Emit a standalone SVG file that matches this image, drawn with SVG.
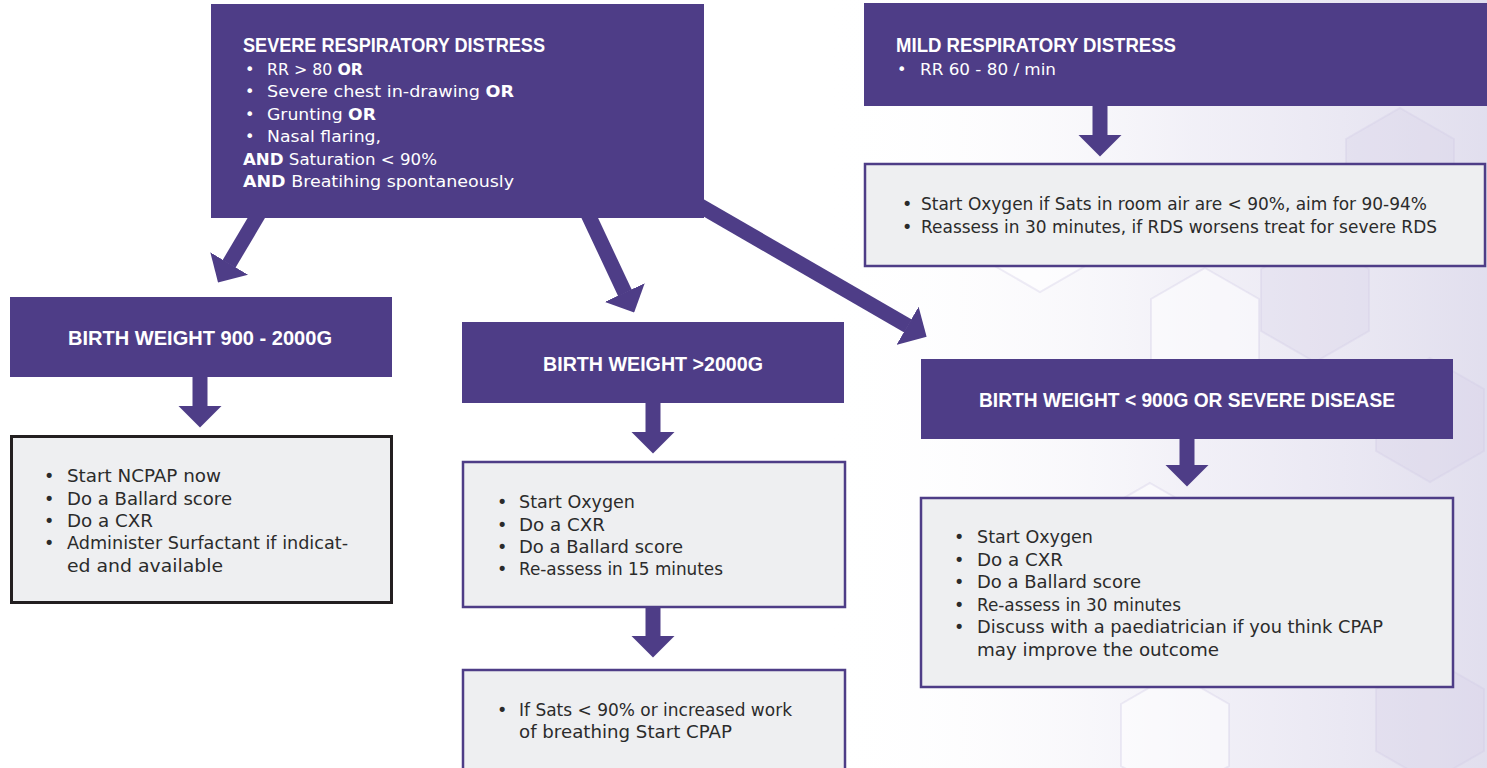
<svg xmlns="http://www.w3.org/2000/svg" width="1487" height="768" viewBox="0 0 1487 768">
  <style>
    .hdr { fill: #4e3d87; }
    .card { fill: #eeeff1; stroke: #4e3d87; stroke-width: 2.5; }
    .card.dark { stroke: #231f20; stroke-width: 3; }
    .title { font-family: "Liberation Sans", Arial, sans-serif; font-weight: bold; font-size: 19.5px; fill: #ffffff; }
    .wt { font-family: "DejaVu Sans", sans-serif; font-size: 16px; fill: #ffffff; }
    .tx { font-family: "DejaVu Sans", sans-serif; font-size: 17.5px; fill: #2b2b2b; }
    .bold { font-weight: bold; }
    .flow { stroke: #4e3d87; stroke-width: 15; fill: none; marker-end: url(#head); }
    .hex { stroke: #d0cce4; stroke-width: 2; }
  </style>
  <defs>
    <marker id="head" markerUnits="userSpaceOnUse" viewBox="0 0 22 44" markerWidth="22" markerHeight="44" refX="0.5" refY="22" orient="auto">
      <path d="M0,0 L22,22 L0,44 Z" fill="#4e3d87"/>
    </marker>
    <linearGradient id="haze" x1="0" y1="0" x2="1" y2="0">
      <stop offset="0.55" stop-color="#ffffff" stop-opacity="0"/>
      <stop offset="0.8" stop-color="#eceaf4" stop-opacity="0.7"/>
      <stop offset="1" stop-color="#dedbec" stop-opacity="0.9"/>
    </linearGradient>
    <polygon id="hx" points="0,-62 54,-31 54,31 0,62 -54,31 -54,-31"/>
  </defs>

  <!-- page background with faint hexagon texture on the right -->
  <g id="background">
    <rect x="0" y="0" width="1487" height="768" fill="#ffffff"/>
    <rect x="0" y="0" width="1487" height="768" fill="url(#haze)"/>
    <g class="hex" fill="#ffffff" fill-opacity="0.5" stroke-opacity="0.35">
      <use href="#hx" x="1205" y="330"/>
      <use href="#hx" x="1150" y="545"/>
      <use href="#hx" x="1175" y="735"/>
      <use href="#hx" x="1040" y="230"/>
    </g>
    <g class="hex" fill="#d6d2e8" fill-opacity="0.3" stroke-opacity="0.35">
      <use href="#hx" x="1315" y="300"/>
      <use href="#hx" x="1430" y="420"/>
      <use href="#hx" x="1370" y="580"/>
      <use href="#hx" x="1430" y="720"/>
      <use href="#hx" x="1400" y="170"/>
    </g>
  </g>

  <!-- connectors -->
  <g id="connectors">
    <line class="flow" x1="261" y1="210" x2="229" y2="264"/>
    <line class="flow" x1="586" y1="210" x2="625" y2="293"/>
    <line class="flow" x1="690" y1="200" x2="908" y2="326"/>
    <line class="flow" x1="1100" y1="104" x2="1100" y2="135"/>
    <line class="flow" x1="200" y1="376" x2="200" y2="406"/>
    <line class="flow" x1="653" y1="402" x2="653" y2="432"/>
    <line class="flow" x1="653" y1="607" x2="653" y2="636"/>
    <line class="flow" x1="1187" y1="438" x2="1187" y2="465"/>
  </g>

  <!-- severe respiratory distress -->
  <g id="severe">
    <rect class="hdr" x="211" y="4" width="493" height="214"/>
    <text class="title" x="243" y="52" textLength="302" lengthAdjust="spacingAndGlyphs">SEVERE RESPIRATORY DISTRESS</text>
    <text class="wt" x="245" y="75">•</text>
    <text class="wt" x="267" y="75" textLength="96" lengthAdjust="spacingAndGlyphs">RR &gt; 80 <tspan class="bold">OR</tspan></text>
    <text class="wt" x="245" y="97">•</text>
    <text class="wt" x="267" y="97" textLength="247" lengthAdjust="spacingAndGlyphs">Severe chest in-drawing <tspan class="bold">OR</tspan></text>
    <text class="wt" x="245" y="120">•</text>
    <text class="wt" x="267" y="120" textLength="109" lengthAdjust="spacingAndGlyphs">Grunting <tspan class="bold">OR</tspan></text>
    <text class="wt" x="245" y="142">•</text>
    <text class="wt" x="267" y="142" textLength="114" lengthAdjust="spacingAndGlyphs">Nasal flaring,</text>
    <text class="wt" x="243" y="165" textLength="194" lengthAdjust="spacingAndGlyphs"><tspan class="bold">AND</tspan> Saturation &lt; 90%</text>
    <text class="wt" x="243" y="187" textLength="271" lengthAdjust="spacingAndGlyphs"><tspan class="bold">AND</tspan> Breatihing spontaneously</text>
  </g>

  <!-- mild respiratory distress -->
  <g id="mild">
    <rect class="hdr" x="864" y="3" width="623" height="103"/>
    <text class="title" x="896" y="52" textLength="280" lengthAdjust="spacingAndGlyphs">MILD RESPIRATORY DISTRESS</text>
    <text class="wt" x="897" y="75">•</text>
    <text class="wt" x="920" y="75" textLength="136" lengthAdjust="spacingAndGlyphs">RR 60 - 80 / min</text>
  </g>

  <g id="mild-actions">
    <rect class="card" x="865" y="164" width="620" height="102"/>
    <text class="tx" x="902" y="210">•</text>
    <text class="tx" x="921" y="210" textLength="506" lengthAdjust="spacingAndGlyphs">Start Oxygen if Sats in room air are &lt; 90%, aim for 90-94%</text>
    <text class="tx" x="902" y="233">•</text>
    <text class="tx" x="921" y="233" textLength="516" lengthAdjust="spacingAndGlyphs">Reassess in 30 minutes, if RDS worsens treat for severe RDS</text>
  </g>

  <!-- birth weight 900 - 2000 g -->
  <g id="bw-900-2000">
    <rect class="hdr" x="10" y="297" width="382" height="80"/>
    <text class="title" x="68" y="345" textLength="264" lengthAdjust="spacingAndGlyphs">BIRTH WEIGHT 900 - 2000G</text>
  </g>

  <g id="bw-900-2000-actions">
    <rect class="card dark" x="11.5" y="436.5" width="380" height="166"/>
    <text class="tx" x="44" y="482">•</text>
    <text class="tx" x="67" y="482" textLength="154" lengthAdjust="spacingAndGlyphs">Start NCPAP now</text>
    <text class="tx" x="44" y="505">•</text>
    <text class="tx" x="67" y="505" textLength="165" lengthAdjust="spacingAndGlyphs">Do a Ballard score</text>
    <text class="tx" x="44" y="527">•</text>
    <text class="tx" x="67" y="527" textLength="86" lengthAdjust="spacingAndGlyphs">Do a CXR</text>
    <text class="tx" x="44" y="549">•</text>
    <text class="tx" x="67" y="549" textLength="281" lengthAdjust="spacingAndGlyphs">Administer Surfactant if indicat-</text>
    <text class="tx" x="67" y="572" textLength="156" lengthAdjust="spacingAndGlyphs">ed and available</text>
  </g>

  <!-- birth weight over 2000 g -->
  <g id="bw-over-2000">
    <rect class="hdr" x="462" y="322" width="382" height="81"/>
    <text class="title" x="543" y="371" textLength="220" lengthAdjust="spacingAndGlyphs">BIRTH WEIGHT &gt;2000G</text>
  </g>

  <g id="bw-over-2000-actions">
    <rect class="card" x="463" y="462" width="382" height="145"/>
    <text class="tx" x="497" y="508">•</text>
    <text class="tx" x="519" y="508" textLength="116" lengthAdjust="spacingAndGlyphs">Start Oxygen</text>
    <text class="tx" x="497" y="531">•</text>
    <text class="tx" x="519" y="531" textLength="86" lengthAdjust="spacingAndGlyphs">Do a CXR</text>
    <text class="tx" x="497" y="553">•</text>
    <text class="tx" x="519" y="553" textLength="164" lengthAdjust="spacingAndGlyphs">Do a Ballard score</text>
    <text class="tx" x="497" y="575">•</text>
    <text class="tx" x="519" y="575" textLength="204" lengthAdjust="spacingAndGlyphs">Re-assess in 15 minutes</text>
  </g>

  <g id="bw-over-2000-followup">
    <rect class="card" x="463" y="670" width="382" height="110"/>
    <text class="tx" x="497" y="716">•</text>
    <text class="tx" x="519" y="716" textLength="273" lengthAdjust="spacingAndGlyphs">If Sats &lt; 90% or increased work</text>
    <text class="tx" x="519" y="738" textLength="213" lengthAdjust="spacingAndGlyphs">of breathing Start CPAP</text>
  </g>

  <!-- birth weight under 900 g or severe disease -->
  <g id="bw-under-900">
    <rect class="hdr" x="921" y="359" width="532" height="80"/>
    <text class="title" x="979" y="407" textLength="416" lengthAdjust="spacingAndGlyphs">BIRTH WEIGHT &lt; 900G OR SEVERE DISEASE</text>
  </g>

  <g id="bw-under-900-actions">
    <rect class="card" x="921" y="498" width="532" height="189"/>
    <text class="tx" x="954" y="543">•</text>
    <text class="tx" x="977" y="543" textLength="116" lengthAdjust="spacingAndGlyphs">Start Oxygen</text>
    <text class="tx" x="954" y="566">•</text>
    <text class="tx" x="977" y="566" textLength="86" lengthAdjust="spacingAndGlyphs">Do a CXR</text>
    <text class="tx" x="954" y="588">•</text>
    <text class="tx" x="977" y="588" textLength="164" lengthAdjust="spacingAndGlyphs">Do a Ballard score</text>
    <text class="tx" x="954" y="611">•</text>
    <text class="tx" x="977" y="611" textLength="204" lengthAdjust="spacingAndGlyphs">Re-assess in 30 minutes</text>
    <text class="tx" x="954" y="633">•</text>
    <text class="tx" x="977" y="633" textLength="406" lengthAdjust="spacingAndGlyphs">Discuss with a paediatrician if you think CPAP</text>
    <text class="tx" x="977" y="656" textLength="242" lengthAdjust="spacingAndGlyphs">may improve the outcome</text>
  </g>
</svg>
